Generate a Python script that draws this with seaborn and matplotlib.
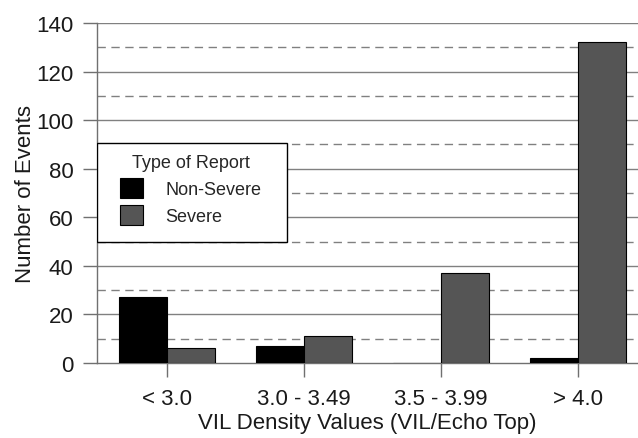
import matplotlib
matplotlib.use("Agg")
import matplotlib.pyplot as plt
import matplotlib.patches as mpatches
import seaborn as sns
import pandas as pd

categories = ["< 3.0", "3.0 - 3.49", "3.5 - 3.99", "> 4.0"]
non_severe = [27, 7, 0, 2]
severe = [6, 11, 37, 132]
report_types = ["Non-Severe", "Severe"]

df = pd.DataFrame({
    "cat": categories * 2,
    "count": non_severe + severe,
    "type": [report_types[0]] * 4 + [report_types[1]] * 4,
})

sns.set_theme(style="white")
plt.rcParams["font.family"] = ["Liberation Sans", "DejaVu Sans"]

W, H = 638, 439
fig = plt.figure(figsize=(W / 100, H / 100), dpi=100)
ax = fig.add_axes([97 / W, 1 - 364 / H, 1 - 97 / W, 340 / H])

sns.barplot(data=df, x="cat", y="count", hue="type", order=categories,
            hue_order=report_types, palette=["#000000", "#555555"],
            width=0.7, edgecolor="#000000", linewidth=0.8, ax=ax, zorder=3)

for y in range(20, 141, 20):
    ax.axhline(y, color="#808080", lw=1.0, zorder=1)
for y in range(10, 140, 20):
    ax.axhline(y, color="#808080", lw=1.0, ls=(0, (6, 4)), zorder=1)

for s in ["top", "right"]:
    ax.spines[s].set_visible(False)
for s in ["left", "bottom"]:
    ax.spines[s].set_color("#707070")
    ax.spines[s].set_linewidth(1.0)

ax.tick_params(axis="both", which="major", labelsize=16, length=10,
               width=1, color="#707070", direction="out", left=True, bottom=True,
               labelcolor="#1a1a1a")
ax.tick_params(axis="x", pad=8)
ax.tick_params(axis="y", pad=7)

ax.set_xlabel("VIL Density Values (VIL/Echo Top)", fontsize=16, color="#1a1a1a", labelpad=2)
ax.set_ylabel("Number of Events", fontsize=16, color="#1a1a1a", labelpad=0)

# legend frame (pixel box 97..287 x 144..243)
frame = mpatches.Rectangle((97 / W, 1 - 243 / H), 190 / W, 99 / H,
                           transform=fig.transFigure, facecolor="white",
                           edgecolor="#000000", lw=1.0, zorder=4)
ax.add_artist(frame)

leg = ax.legend(title="Type of Report", loc="upper left",
                bbox_to_anchor=(120 / W, 1 - 155 / H), bbox_transform=fig.transFigure,
                borderaxespad=0, borderpad=0,
                fontsize=13, title_fontsize=13, frameon=False,
                handlelength=1.3, handleheight=1.3, handletextpad=1.2,
                labelspacing=0.4)
leg.set_zorder(5)

ax.set_ylim(0, 140)
ax.set_xlim(-0.51, 3.44)
ax.set_yticks(range(0, 141, 20))

fig.savefig("out.png", dpi=100)
